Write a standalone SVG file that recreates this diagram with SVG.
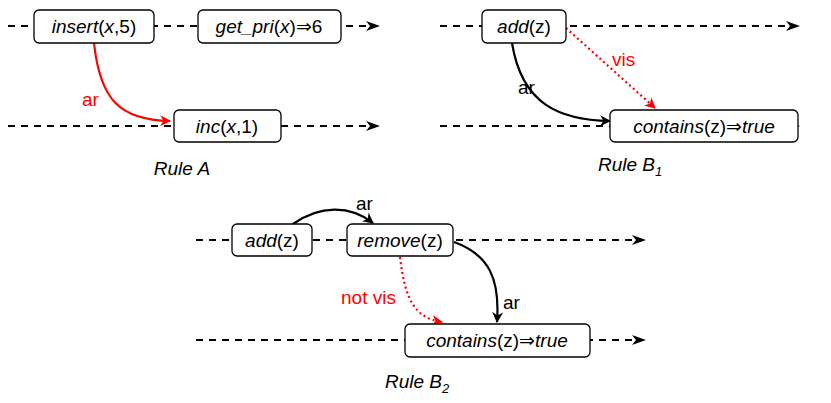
<svg xmlns="http://www.w3.org/2000/svg" width="831" height="403" viewBox="0 0 831 403">
<defs>
<marker id="ar" viewBox="0 0 10 10" refX="9" refY="5" markerWidth="5" markerHeight="5" orient="auto"><path d="M0,0 L10,5 L0,10 L3,5 z" fill="#f00"/></marker>
<marker id="ak" viewBox="0 0 10 10" refX="9" refY="5" markerWidth="5" markerHeight="5" orient="auto"><path d="M0,0 L10,5 L0,10 L3,5 z" fill="#000"/></marker>
<style>
.tl{stroke:#000;stroke-width:2;stroke-dasharray:7,6;fill:none}
.bx{fill:#fff;stroke:#000;stroke-width:1.3}
text{font-family:"Liberation Sans",Arial,sans-serif;font-size:19px}
.c{text-anchor:middle}
.i{font-style:italic}
.bk{stroke:#000;stroke-width:2.2;fill:none}
.rd{stroke:#f00;stroke-width:2.2;fill:none}
.rdd{stroke:#f00;stroke-width:2.2;fill:none;stroke-dasharray:2,3}
</style>
</defs>
<g id="timelines">
<line class="tl" x1="8" y1="26" x2="374" y2="26"/>
<path d="M366,21 L380,26 L366,31 L370,26 z"/>
<line class="tl" x1="8" y1="126" x2="374" y2="126"/>
<path d="M366,121 L380,126 L366,131 L370,126 z"/>
<line class="tl" x1="440" y1="26" x2="794" y2="26"/>
<path d="M786,21 L800,26 L786,31 L790,26 z"/>
<line class="tl" x1="440" y1="126" x2="794" y2="126"/>
<path d="M786,121 L800,126 L786,131 L790,126 z"/>
<line class="tl" x1="196" y1="240" x2="640" y2="240"/>
<path d="M632,235 L646,240 L632,245 L636,240 z"/>
<line class="tl" x1="196" y1="340" x2="640" y2="340"/>
<path d="M632,335 L646,340 L632,345 L636,340 z"/>
</g>
<g id="connectors">
<path class="rd" d="M94,43 C100,100 120,120 170,121" marker-end="url(#ar)"/>
<text x="82" y="106" fill="#f00">ar</text>
<path class="bk" d="M512,43 C522,105 560,120 610,121" marker-end="url(#ak)"/>
<text x="518" y="94">ar</text>
<path class="rdd" d="M566,28 L655,108" marker-end="url(#ar)"/>
<text x="612" y="66" fill="#f00">vis</text>
<path class="bk" d="M293,224 C320,205 350,205 373,223" marker-end="url(#ak)"/>
<text x="356" y="210">ar</text>
<path class="bk" d="M454,242 C490,255 500,280 497,322" marker-end="url(#ak)"/>
<text x="503" y="309">ar</text>
<path class="rdd" d="M400,257 C405,300 415,318 442,322" marker-end="url(#ar)"/>
<text x="341" y="304" fill="#f00">not vis</text>
</g>
<g id="insert"><rect class="bx" x="34" y="10" width="120" height="33" rx="5"/><text class="c" x="94" y="33"><tspan class="i">insert</tspan>(<tspan class="i">x</tspan>,5)</text></g>
<g id="getpri"><rect class="bx" x="198" y="10" width="143" height="33" rx="5"/><text class="c" x="269" y="33"><tspan class="i">get_pri</tspan>(<tspan class="i">x</tspan>)⇒6</text></g>
<g id="inc"><rect class="bx" x="174" y="110" width="107" height="32" rx="5"/><text class="c" x="227" y="133"><tspan class="i">inc</tspan>(<tspan class="i">x</tspan>,1)</text></g>
<text class="c i" x="182" y="175">Rule A</text>
<g id="addB1"><rect class="bx" x="482" y="10" width="84" height="33" rx="5"/><text class="c" x="524" y="33"><tspan class="i">add</tspan>(z)</text></g>
<g id="containsB1"><rect class="bx" x="610" y="110" width="188" height="32" rx="5"/><text class="c" x="704" y="133"><tspan class="i">contains</tspan>(z)⇒<tspan class="i">true</tspan></text></g>
<text class="i" x="598" y="171">Rule B<tspan font-size="13" dy="5">1</tspan></text>
<g id="addB2"><rect class="bx" x="232" y="224" width="80" height="32" rx="5"/><text class="c" x="272" y="247"><tspan class="i">add</tspan>(z)</text></g>
<g id="remove"><rect class="bx" x="347" y="224" width="106" height="32" rx="5"/><text class="c" x="400" y="247"><tspan class="i">remove</tspan>(z)</text></g>
<g id="containsB2"><rect class="bx" x="405" y="324" width="185" height="33" rx="5"/><text class="c" x="497" y="347"><tspan class="i">contains</tspan>(z)⇒<tspan class="i">true</tspan></text></g>
<text class="i" x="385" y="388">Rule B<tspan font-size="13" dy="5">2</tspan></text>
</svg>
